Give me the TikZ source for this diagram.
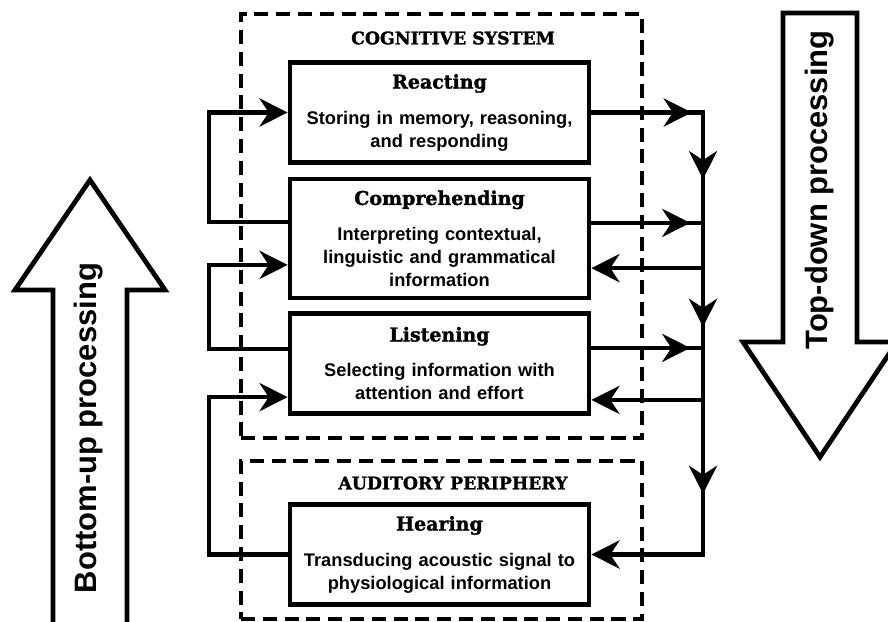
\documentclass[tikz,border=0pt]{standalone}
\usepackage{fontspec}
\setmainfont{Liberation Sans}
\newfontfamily\slabfont[BoldFeatures={FakeBold=1.6}]{DejaVu Serif}
\usetikzlibrary{arrows.meta,positioning,calc,decorations.markings}

\tikzset{bighead/.tip={Stealth[length=20pt,width=20pt,inset=6.5pt]}}

\newcommand{\ttl}[1]{{\slabfont\bfseries\fontsize{13.5}{16}\selectfont #1}\\[9pt]}

\begin{document}
\begin{tikzpicture}[
		x=0.025cm, y=-0.025cm,
		stage/.style={rectangle, draw, line width=3.3pt, minimum width=7.475cm, minimum height=2.5cm, text width=7cm, align=center, inner sep=0pt, font=\bfseries\fontsize{13}{16.3}\selectfont},
		group/.style={rectangle, draw, line width=2.5pt, dash pattern=on 10pt off 5.5pt, minimum width=10.025cm},
		grouptitle/.style={font=\slabfont\bfseries\fontsize{12.3}{14}\selectfont},
		link/.style={line width=3pt},
		midhead/.style={postaction={decorate}, decoration={markings, mark=at position #1 with {\arrow{bighead}}}},
		railheads/.style={postaction={decorate}, decoration={markings,
				mark=at position 0.151 with {\arrow{bighead}},
				mark=at position 0.268 with {\arrow{bighead}},
				mark=at position 0.490 with {\arrow{bighead}},
				mark=at position 0.741 with {\arrow{bighead}}}},
		bigarrow/.style={draw, line width=3.4pt, line join=miter, fill=white},
		biglabel/.style={font=\bfseries\fontsize{22}{24}\selectfont},
		]
		\useasboundingbox (0,0) rectangle (888,621);
		
		% Groups
		\node[group, minimum height=10.6cm] (cogsys) at (441.5,226) {};
		\node[group, minimum height=3.95cm] (audper) at (441.5,540) {};
		\node[grouptitle] (cogtitle) at (453,38) {COGNITIVE SYSTEM};
		\node[grouptitle] (audtitle) at (453,483) {AUDITORY PERIPHERY};
		
		% Stages
		\node[stage] (react) at (439.5,112.5) {\ttl{Reacting}Storing in memory, reasoning,\\and responding};
		\node[stage, minimum height=2.975cm] (comp) at (439.5,238.5) {\ttl{Comprehending}Interpreting contextual,\\linguistic and grammatical\\information};
		\node[stage] (listen) at (439.5,363.5) {\ttl{Listening}Selecting information with\\attention and effort};
		\node[stage] (hear) at (439.5,554.5) {\ttl{Hearing}Transducing acoustic signal to\\physiological information};
		
		% Rails and ports
		\coordinate (lrail) at (209,0);
		\coordinate (rrail) at (703,0);
		\coordinate (comp-out-l) at ([yshift=0.41cm]comp.west);
		\coordinate (comp-in-l) at ([yshift=-0.66cm]comp.west);
		\coordinate (listen-out-l) at ([yshift=0.36cm]listen.west);
		\coordinate (listen-in-l) at ([yshift=-0.84cm]listen.west);
		\coordinate (comp-out-r) at ([yshift=0.39cm]comp.east);
		\coordinate (comp-in-r) at ([yshift=-0.74cm]comp.east);
		\coordinate (listen-out-r) at ([yshift=0.39cm]listen.east);
		\coordinate (listen-in-r) at ([yshift=-0.91cm]listen.east);
		
		% Bottom-up (left)
		\draw[link, -bighead] (comp-out-l) -| (lrail |- react.west) -- (react.west);
		\draw[link, -bighead] (listen-out-l) -| (lrail |- comp-in-l) -- (comp-in-l);
		\draw[link, -bighead] (hear.west) -| (lrail |- listen-in-l) -- (listen-in-l);
		
		% Top-down (right)
		\draw[link, railheads, -bighead] (react.east) -- (rrail |- react.east) -- (rrail |- hear.east) -- (hear.east);
		\draw[link, midhead=0.886] (comp-out-r) -- (rrail |- comp-out-r);
		\draw[link, midhead=0.886] (listen-out-r) -- (rrail |- listen-out-r);
		\draw[link, -bighead] (rrail |- comp-in-r) -- (comp-in-r);
		\draw[link, -bighead] (rrail |- listen-in-r) -- (listen-in-r);
		
		% Big arrows
		\draw[bigarrow] (53,640) -- (53,290) -- (15,290) -- (90,180) -- (165,290) -- (127,290) -- (127,640) -- cycle;
		\node[biglabel, rotate=90] (bottomup) at (89,428) {Bottom-up processing};
		\draw[bigarrow] (783,13) -- (857,13) -- (857,342) -- (897,342) -- (820,457) -- (743,342) -- (783,342) -- cycle;
		\node[biglabel, rotate=90] (topdown) at (820,190) {Top-down processing};
	\end{tikzpicture}
\end{document}
